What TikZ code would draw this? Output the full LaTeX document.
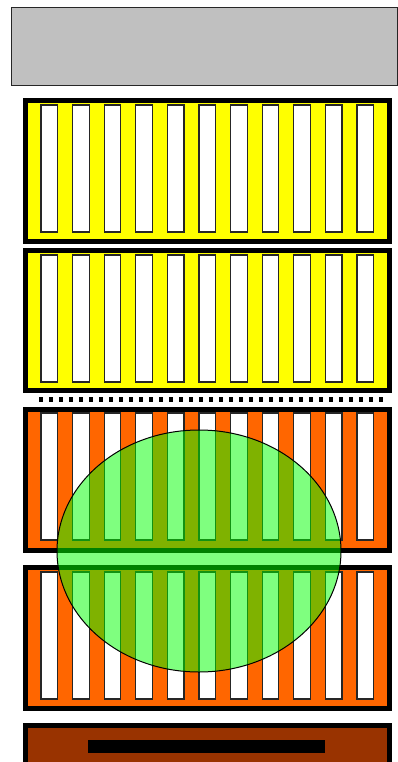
\documentclass[tikz,border=0pt]{standalone}
\usepackage{tikz}
\definecolor{grayfill}{HTML}{C0C0C0}
\definecolor{yel}{HTML}{FFFF00}
\definecolor{orn}{HTML}{FF6600}
\definecolor{brn}{HTML}{993300}
\tikzset{
  panel/.style={draw=black, line width=5pt},
  slot/.style={draw=black!85, fill=white, line width=1.2pt},
  topbox/.style={draw=black!85, fill=grayfill, line width=1.5pt},
  dots/.style={draw=black, line width=4.5pt, dash pattern=on 4pt off 6pt},
  lens/.style={draw=black, fill=green, fill opacity=0.5, line width=1pt}
}
\begin{document}
\begin{tikzpicture}[x=1pt,y=-1pt]
\useasboundingbox (0,0) rectangle (398,762);
\begin{scope}
\clip (0,0) rectangle (398,762);
% top gray box
\node[topbox, minimum width=386pt, minimum height=78pt, anchor=north west, inner sep=0pt] (top) at (10.5,7) {};
% panels
\foreach \name/\ya/\yb/\col in {p1/100.5/241.5/yel, p2/250.5/390.5/yel, p3/409.5/550.5/orn, p4/567.5/708.5/orn}{
  \draw[panel, fill=\col] (25.5,\ya) rectangle (389.5,\yb);
}
\foreach \ya/\yb in {105/232, 255/382, 413/540, 572/699}{
  \foreach \i in {0,...,10}{
    \draw[slot] ({41+31.6*\i},\ya) rectangle ({57.5+31.6*\i},\yb);
  }
}
% dotted separator
\coordinate (dA) at (39,399.5);
\coordinate (dB) at (386,399.5);
\draw[dots] (dA) -- (dB);
% bottom brown panel
\draw[panel, fill=brn] (25.5,725.5) rectangle (389.5,770);
\fill[black] (88,740) rectangle (325,753);
% green ellipse
\draw[lens] (199,551) ellipse [x radius=142, y radius=121];
\end{scope}
\end{tikzpicture}
\end{document}
